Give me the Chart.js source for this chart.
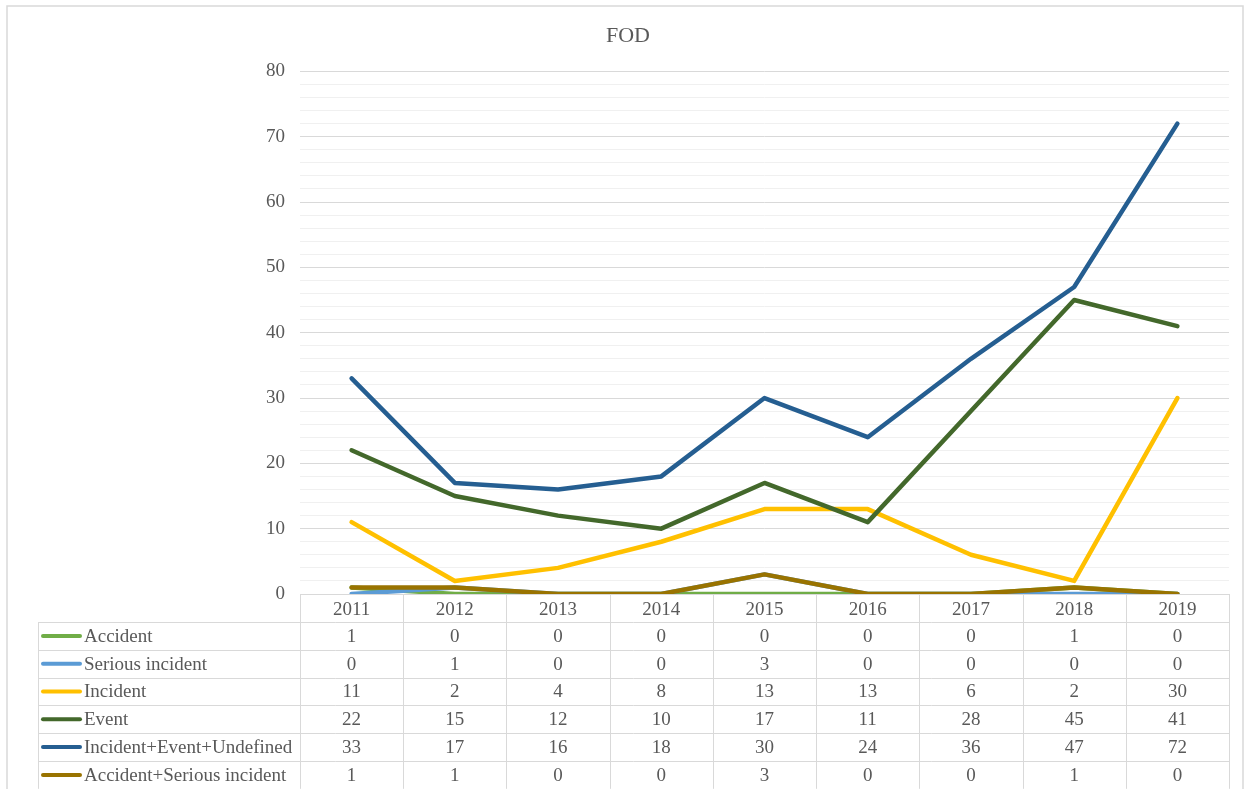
<!DOCTYPE html>
<html>
<head>
<meta charset="utf-8">
<script src="https://cdn.jsdelivr.net/npm/chart.js@4"></script>
<style>
  html, body { margin: 0; padding: 0; background: #ffffff; }
  #wrap { position: relative; width: 1250px; height: 789px; }
</style>
</head>
<body>
<div id="wrap"><canvas id="c" width="1250" height="789"></canvas></div>
<script>
const title = "FOD";
const years = ["2011","2012","2013","2014","2015","2016","2017","2018","2019"];
const seriesNames = ["Accident","Serious incident","Incident","Event","Incident+Event+Undefined","Accident+Serious incident"];
const accident = [1,0,0,0,0,0,0,1,0];
const seriousIncident = [0,1,0,0,3,0,0,0,0];
const incident = [11,2,4,8,13,13,6,2,30];
const eventVals = [22,15,12,10,17,11,28,45,41];
const incidentEventUndefined = [33,17,16,18,30,24,36,47,72];
const accidentSerious = [1,1,0,0,3,0,0,1,0];
const seriesColors = ["#70AD47","#5B9BD5","#FFC000","#43682B","#255E91","#997300"];
const yTickLabels = [0,10,20,30,40,50,60,70,80];

const seriesValues = [accident, seriousIncident, incident, eventVals, incidentEventUndefined, accidentSerious];
const FONT = "'Liberation Serif', 'Times New Roman', serif";
const TEXT = "#595959";
const GRID = "#d9d9d9";
const HEADER_H = 28, ROW_H = 27.8, LEGEND_LEFT = 38;

const tablePlugin = {
  id: 'tablePlugin',
  beforeDraw(chart) {
    const ctx = chart.ctx;
    ctx.save();
    ctx.fillStyle = '#ffffff';
    ctx.fillRect(0, 0, chart.width, chart.height);
    ctx.strokeStyle = GRID;
    ctx.lineWidth = 1.5;
    ctx.strokeRect(7, 6, 1236, 820);
    ctx.restore();
  },
  afterDraw(chart) {
    const ctx = chart.ctx;
    const xs = chart.scales.x;
    const area = chart.chartArea;
    const colW = (area.right - area.left) / years.length;
    const top = area.bottom;
    const rowsTop = top + HEADER_H;
    const bottom = rowsTop + ROW_H * seriesNames.length;
    ctx.save();
    ctx.strokeStyle = GRID;
    ctx.lineWidth = 1;
    for (let j = 0; j <= years.length; j++) {
      const x = Math.round(area.left + j * colW) + 0.5;
      ctx.beginPath(); ctx.moveTo(x, top); ctx.lineTo(x, bottom); ctx.stroke();
    }
    ctx.beginPath(); ctx.moveTo(LEGEND_LEFT + 0.5, rowsTop); ctx.lineTo(LEGEND_LEFT + 0.5, bottom); ctx.stroke();
    for (let i = 0; i <= seriesNames.length; i++) {
      const y = Math.round(rowsTop + i * ROW_H) + 0.5;
      ctx.beginPath(); ctx.moveTo(LEGEND_LEFT, y); ctx.lineTo(area.right, y); ctx.stroke();
    }
    ctx.font = "19px " + FONT;
    ctx.textBaseline = 'middle';
    for (let i = 0; i < seriesNames.length; i++) {
      const cy = rowsTop + i * ROW_H + ROW_H / 2 + 1;
      ctx.strokeStyle = seriesColors[i];
      ctx.lineWidth = 4;
      ctx.lineCap = 'round';
      ctx.beginPath(); ctx.moveTo(43, cy - 1); ctx.lineTo(80, cy - 1); ctx.stroke();
      ctx.fillStyle = TEXT;
      ctx.textAlign = 'left';
      ctx.fillText(seriesNames[i], 84, cy);
      ctx.textAlign = 'center';
      for (let j = 0; j < years.length; j++) {
        ctx.fillText(String(seriesValues[i][j]), xs.getPixelForValue(j), cy);
      }
    }
    ctx.restore();
  }
};

const datasets = seriesNames.map((name, i) => ({
  label: name,
  data: seriesValues[i],
  borderColor: seriesColors[i],
  backgroundColor: seriesColors[i],
  borderWidth: 4.5,
  pointRadius: 0,
  pointHoverRadius: 0,
  tension: 0,
  borderCapStyle: 'round',
  borderJoinStyle: 'round',
  fill: false,
  order: seriesNames.length - i
}));

new Chart(document.getElementById('c'), {
  type: 'line',
  data: { labels: years, datasets },
  options: {
    responsive: false,
    animation: false,
    layout: { padding: { left: 27, right: 21, top: 0, bottom: 0 } },
    plugins: {
      legend: { display: false },
      tooltip: { enabled: false },
      title: {
        display: true,
        text: title,
        color: TEXT,
        font: { family: FONT, size: 22, weight: 'normal' },
        padding: { top: 23, bottom: 22 }
      }
    },
    scales: {
      x: {
        type: 'category',
        offset: true,
        grid: { display: false, drawTicks: false },
        border: { display: true, color: GRID, width: 1 },
        ticks: { color: TEXT, font: { family: FONT, size: 19 }, padding: 5, maxRotation: 0, autoSkip: false },
        afterFit(scale) { scale.height = 195; }
      },
      y: {
        min: 0,
        max: 80,
        border: { display: false },
        grid: {
          drawTicks: false,
          color: (c) => (c.tick && c.tick.value % 10 === 0) ? GRID : '#f0f0f0',
          lineWidth: 1
        },
        ticks: {
          stepSize: 2,
          color: TEXT,
          font: { family: FONT, size: 19 },
          padding: 15,
          autoSkip: false,
          callback: (v) => yTickLabels.includes(v) ? String(v) : ''
        },
        afterFit(scale) { scale.width = 273; }
      }
    }
  },
  plugins: [tablePlugin]
});
</script>
</body>
</html>
